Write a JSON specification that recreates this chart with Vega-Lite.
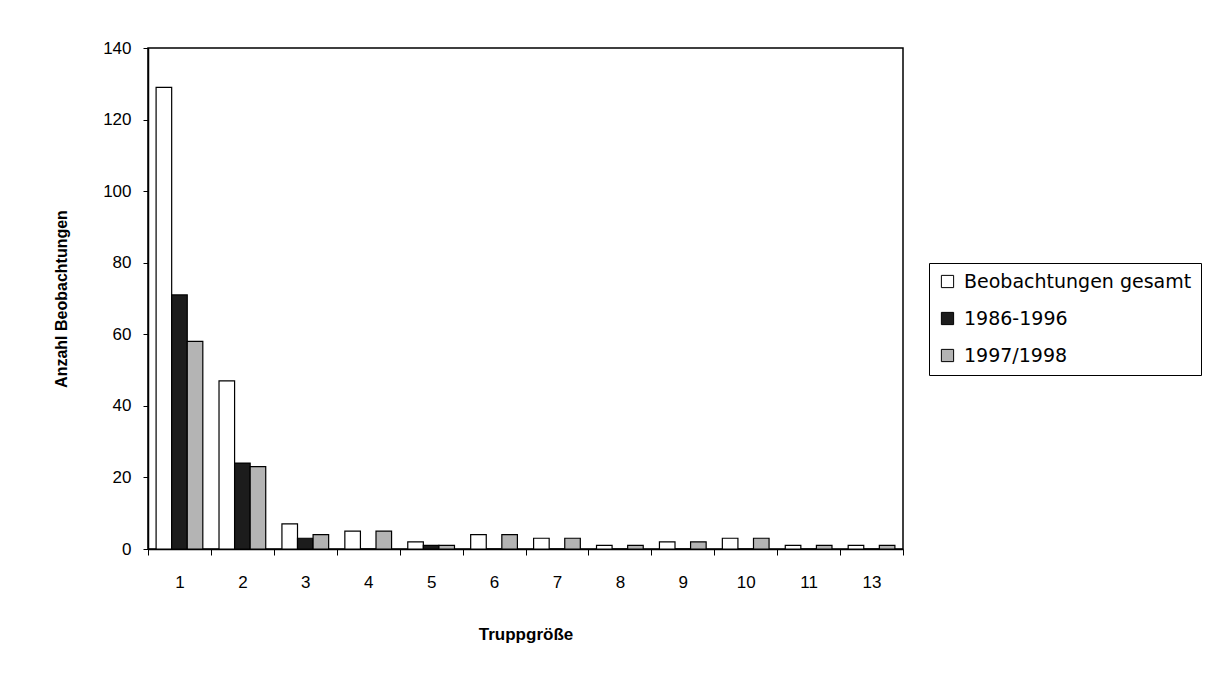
{
  "$schema": "https://vega.github.io/schema/vega-lite/v6.json",
  "width": 755,
  "height": 501,
  "autosize": {"type": "none"},
  "padding": {"left": 148, "top": 48, "right": 320, "bottom": 151},
  "background": "white",
  "config": {
    "font": "Liberation Sans",
    "view": {"stroke": "black", "strokeWidth": 1.5}
  },
  "data": {
    "values": [
      {"Truppgroesse": "1", "Serie": "Beobachtungen gesamt", "Anzahl": 129},
      {"Truppgroesse": "1", "Serie": "1986-1996", "Anzahl": 71},
      {"Truppgroesse": "1", "Serie": "1997/1998", "Anzahl": 58},
      {"Truppgroesse": "2", "Serie": "Beobachtungen gesamt", "Anzahl": 47},
      {"Truppgroesse": "2", "Serie": "1986-1996", "Anzahl": 24},
      {"Truppgroesse": "2", "Serie": "1997/1998", "Anzahl": 23},
      {"Truppgroesse": "3", "Serie": "Beobachtungen gesamt", "Anzahl": 7},
      {"Truppgroesse": "3", "Serie": "1986-1996", "Anzahl": 3},
      {"Truppgroesse": "3", "Serie": "1997/1998", "Anzahl": 4},
      {"Truppgroesse": "4", "Serie": "Beobachtungen gesamt", "Anzahl": 5},
      {"Truppgroesse": "4", "Serie": "1986-1996", "Anzahl": 0},
      {"Truppgroesse": "4", "Serie": "1997/1998", "Anzahl": 5},
      {"Truppgroesse": "5", "Serie": "Beobachtungen gesamt", "Anzahl": 2},
      {"Truppgroesse": "5", "Serie": "1986-1996", "Anzahl": 1},
      {"Truppgroesse": "5", "Serie": "1997/1998", "Anzahl": 1},
      {"Truppgroesse": "6", "Serie": "Beobachtungen gesamt", "Anzahl": 4},
      {"Truppgroesse": "6", "Serie": "1986-1996", "Anzahl": 0},
      {"Truppgroesse": "6", "Serie": "1997/1998", "Anzahl": 4},
      {"Truppgroesse": "7", "Serie": "Beobachtungen gesamt", "Anzahl": 3},
      {"Truppgroesse": "7", "Serie": "1986-1996", "Anzahl": 0},
      {"Truppgroesse": "7", "Serie": "1997/1998", "Anzahl": 3},
      {"Truppgroesse": "8", "Serie": "Beobachtungen gesamt", "Anzahl": 1},
      {"Truppgroesse": "8", "Serie": "1986-1996", "Anzahl": 0},
      {"Truppgroesse": "8", "Serie": "1997/1998", "Anzahl": 1},
      {"Truppgroesse": "9", "Serie": "Beobachtungen gesamt", "Anzahl": 2},
      {"Truppgroesse": "9", "Serie": "1986-1996", "Anzahl": 0},
      {"Truppgroesse": "9", "Serie": "1997/1998", "Anzahl": 2},
      {"Truppgroesse": "10", "Serie": "Beobachtungen gesamt", "Anzahl": 3},
      {"Truppgroesse": "10", "Serie": "1986-1996", "Anzahl": 0},
      {"Truppgroesse": "10", "Serie": "1997/1998", "Anzahl": 3},
      {"Truppgroesse": "11", "Serie": "Beobachtungen gesamt", "Anzahl": 1},
      {"Truppgroesse": "11", "Serie": "1986-1996", "Anzahl": 0},
      {"Truppgroesse": "11", "Serie": "1997/1998", "Anzahl": 1},
      {"Truppgroesse": "13", "Serie": "Beobachtungen gesamt", "Anzahl": 1},
      {"Truppgroesse": "13", "Serie": "1986-1996", "Anzahl": 0},
      {"Truppgroesse": "13", "Serie": "1997/1998", "Anzahl": 1}
    ]
  },
  "mark": {"type": "bar", "stroke": "black", "strokeWidth": 1.2},
  "encoding": {
    "x": {
      "field": "Truppgroesse",
      "type": "ordinal",
      "sort": ["1", "2", "3", "4", "5", "6", "7", "8", "9", "10", "11", "13"],
      "scale": {"paddingInner": 0, "paddingOuter": 0},
      "axis": {
        "title": "Truppgröße",
        "labelAngle": 0,
        "tickBand": "extent",
        "domainColor": "black",
        "domainWidth": 1.5,
        "tickColor": "black",
        "tickSize": 6,
        "labelFontSize": 17,
        "labelPadding": 19,
        "labelColor": "black",
        "titleFontSize": 17,
        "titleFontWeight": "bold",
        "titleColor": "black",
        "titlePadding": 36
      }
    },
    "xOffset": {
      "field": "Serie",
      "type": "nominal",
      "sort": ["Beobachtungen gesamt", "1986-1996", "1997/1998"],
      "scale": {"paddingInner": 0, "paddingOuter": 0.52}
    },
    "y": {
      "field": "Anzahl",
      "type": "quantitative",
      "scale": {"domain": [0, 140], "nice": false},
      "axis": {
        "title": "Anzahl Beobachtungen",
        "values": [0, 20, 40, 60, 80, 100, 120, 140],
        "grid": false,
        "domainColor": "black",
        "domainWidth": 1.5,
        "tickColor": "black",
        "tickSize": 5,
        "labelFontSize": 17,
        "labelPadding": 12,
        "labelColor": "black",
        "titleFontSize": 16,
        "titleFontWeight": "bold",
        "titleColor": "black",
        "titlePadding": 33
      }
    },
    "fill": {
      "field": "Serie",
      "type": "nominal",
      "sort": ["Beobachtungen gesamt", "1986-1996", "1997/1998"],
      "scale": {
        "domain": ["Beobachtungen gesamt", "1986-1996", "1997/1998"],
        "range": ["#ffffff", "#1c1c1c", "#b4b4b4"]
      },
      "legend": {
        "title": null,
        "orient": "none",
        "legendX": 781,
        "legendY": 215,
        "strokeColor": "black",
        "padding": 9,
        "symbolType": "square",
        "symbolSize": 150,
        "symbolStrokeColor": "black",
        "symbolStrokeWidth": 1,
        "labelFont": "DejaVu Sans",
        "labelFontSize": 19,
        "labelColor": "black",
        "labelOffset": 7,
        "rowPadding": 17,
        "labelLimit": 400
      }
    }
  }
}
